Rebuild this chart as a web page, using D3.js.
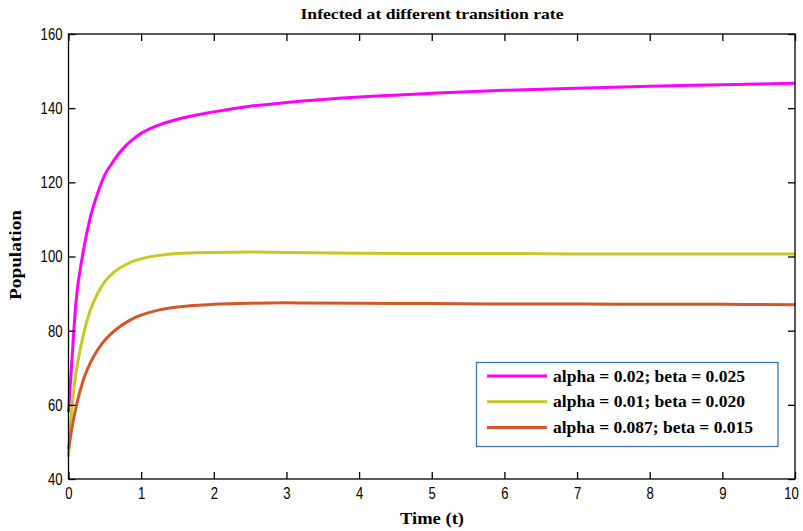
<!DOCTYPE html>
<html><head><meta charset="utf-8">
<script src="https://cdn.jsdelivr.net/npm/d3@7"></script>
<style>body{margin:0;background:#fff}</style>
</head><body>
<svg id="c" width="803" height="531"></svg>
<script>
const time = [0, 0.05, 0.1, 0.2, 0.3, 0.4, 0.5, 0.6, 0.7, 0.8, 0.9, 1, 1.25, 1.5, 2, 2.5, 3, 4, 5, 6, 7, 8, 9, 10];
const seriesNames = ["alpha = 0.02; beta = 0.025", "alpha = 0.01; beta = 0.020", "alpha = 0.087; beta = 0.015"];
const seriesColors = ["#ff00ff", "#c8c824", "#d2582a"];
const magenta = [58, 73, 87, 101, 110.5, 117, 122, 125.2, 127.9, 130.1, 131.8, 133.2, 135.5, 137, 139, 140.5, 141.5, 143, 144, 144.8, 145.4, 145.9, 146.3, 146.7];
const yellow = [46, 60, 68, 78.5, 85.5, 90, 93.2, 95.3, 96.8, 97.9, 98.8, 99.4, 100.3, 100.8, 101.1, 101.2, 101.1, 100.9, 100.8, 100.8, 100.7, 100.7, 100.7, 100.7];
const orange = [48, 54, 59, 66.5, 71.3, 74.8, 77.4, 79.4, 81, 82.3, 83.4, 84.2, 85.6, 86.4, 87.1, 87.4, 87.5, 87.4, 87.3, 87.2, 87.2, 87.1, 87.1, 87.0];
const xTicks = [0,1,2,3,4,5,6,7,8,9,10];
const yTicks = [40,60,80,100,120,140,160];
const seriesValues = [magenta, yellow, orange];

const svg = d3.select("#c");
const L = 68.5, R = 795, T = 34, B = 479;
const x = d3.scaleLinear().domain([0,10]).range([L,R]);
const y = d3.scaleLinear().domain([40,160]).range([B,T]);

const line = d3.line().x(d=>x(d[0])).y(d=>y(d[1])).curve(d3.curveMonotoneX);
const g = svg.append("g");
seriesValues.forEach((vals,i)=>{
  g.append("path").datum(time.map((t,j)=>[t,vals[j]]))
   .attr("d", line).attr("fill","none").attr("stroke",seriesColors[i]).attr("stroke-width",3);
});

// frame
svg.append("rect").attr("x",L).attr("y",T).attr("width",R-L).attr("height",B-T)
  .attr("fill","none").attr("stroke","#000").attr("stroke-width",1.3);

const tickFont = "'Liberation Sans', Arial, sans-serif";
const axB = svg.append("g").attr("transform",`translate(0,${B})`)
  .call(d3.axisBottom(x).tickValues(xTicks).tickSize(-7).tickPadding(6).tickFormat(d3.format("d")));
const axT = svg.append("g").attr("transform",`translate(0,${T})`)
  .call(d3.axisTop(x).tickValues(xTicks).tickSize(-7).tickFormat(""));
const axL = svg.append("g").attr("transform",`translate(${L},0)`)
  .call(d3.axisLeft(y).tickValues(yTicks).tickSize(-7).tickPadding(6).tickFormat(d3.format("d")));
const axR = svg.append("g").attr("transform",`translate(${R},0)`)
  .call(d3.axisRight(y).tickValues(yTicks).tickSize(-7).tickFormat(""));
[axB,axT,axL,axR].forEach(a=>{
  a.select(".domain").remove();
  a.selectAll(".tick line").attr("stroke","#000").attr("stroke-width",1.3);
  a.selectAll("text").attr("font-family",tickFont).attr("font-size",17).attr("fill","#000")
    .each(function(){ const s=d3.select(this).text(); if(s) d3.select(this).attr("textLength",s.length*7.3).attr("lengthAdjust","spacingAndGlyphs"); });
});
axB.selectAll("text").attr("dy","0.8em");
axB.selectAll(".tick").filter(d=>d===10).select("text").attr("x",-4);

const serif = "'Liberation Serif', 'Times New Roman', serif";
svg.append("text").attr("x",432).attr("y",19).attr("text-anchor","middle")
  .attr("font-family",serif).attr("font-weight","bold").attr("font-size",15)
  .attr("textLength",263).attr("lengthAdjust","spacingAndGlyphs").text("Infected at different transition rate");
svg.append("text").attr("x",432).attr("y",524).attr("text-anchor","middle")
  .attr("font-family",serif).attr("font-weight","bold").attr("font-size",16)
  .attr("textLength",64).attr("lengthAdjust","spacingAndGlyphs").text("Time (t)");
svg.append("text").attr("transform","translate(21,255) rotate(-90)").attr("text-anchor","middle")
  .attr("font-family",serif).attr("font-weight","bold").attr("font-size",16)
  .attr("textLength",90).attr("lengthAdjust","spacingAndGlyphs").text("Population");

// legend
const lg = svg.append("g");
lg.append("rect").attr("x",476.5).attr("y",362.5).attr("width",301.5).attr("height",84)
  .attr("fill","#fff").attr("stroke","#3a78b0").attr("stroke-width",1.3);
seriesNames.forEach((n,i)=>{
  const yy = 376 + i*25.8;
  lg.append("line").attr("x1",487).attr("x2",547).attr("y1",yy).attr("y2",yy)
    .attr("stroke",seriesColors[i]).attr("stroke-width",3);
  lg.append("text").attr("x",553).attr("y",yy+5.5).attr("font-family",serif).attr("font-weight","bold")
    .attr("font-size",16.5).attr("textLength",i===2?200:192).attr("lengthAdjust","spacingAndGlyphs").text(n);
});
</script>
</body></html>
